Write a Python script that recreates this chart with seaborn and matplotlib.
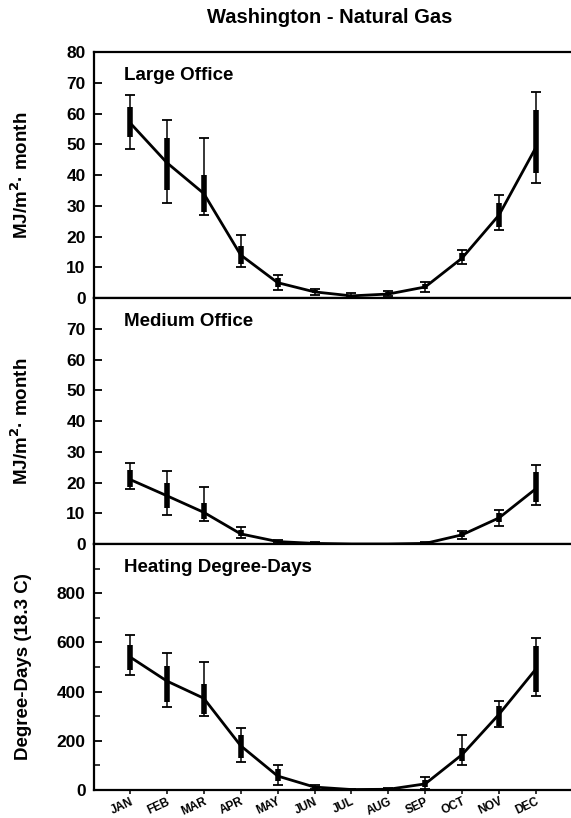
import numpy as np
import pandas as pd
import matplotlib
matplotlib.use('Agg')
import matplotlib.pyplot as plt
from matplotlib.ticker import MultipleLocator
import seaborn as sns

sns.set_style('ticks')
plt.rcParams['font.family'] = ['Liberation Sans', 'DejaVu Sans']
plt.rcParams['font.weight'] = 'bold'
plt.rcParams['text.color'] = 'black'
plt.rcParams['axes.labelcolor'] = 'black'
plt.rcParams['xtick.color'] = 'black'
plt.rcParams['ytick.color'] = 'black'

months = ['JAN', 'FEB', 'MAR', 'APR', 'MAY', 'JUN', 'JUL', 'AUG', 'SEP', 'OCT', 'NOV', 'DEC']

# large office gas use, MJ/m2 per month (mean, full range, inner band)
large_mean = [57, 44, 34, 14, 5, 2, 0.7, 1.3, 3.6, 13, 27, 49]
large_lo = [48.5, 31, 27, 10, 2.5, 1, 0.2, 0.5, 2, 11, 22, 37.5]
large_hi = [66, 58, 52, 20.5, 7.5, 3, 1.5, 2.3, 5.2, 15.5, 33.5, 67]
large_band_lo = [52.5, 35, 28, 11, 3.5, 1.5, 0.4, 0.9, 2.8, 12, 23, 40.5]
large_band_hi = [62, 52, 40, 17, 6.5, 2.5, 1, 1.8, 4.5, 14.5, 31, 61]

# medium office
medium_mean = [21, 15.7, 10.3, 3.3, 0.8, 0.2, 0, 0, 0.2, 3, 8.5, 18]
medium_lo = [18, 9.5, 7.5, 2, 0.3, 0, 0, 0, 0, 1.6, 6, 12.7]
medium_hi = [26.3, 23.8, 18.6, 5.5, 1.3, 0.5, 0.1, 0.1, 0.5, 4.2, 11, 25.7]
medium_band_lo = [18.5, 11.7, 8, 2.5, 0.5, 0.1, 0, 0, 0.1, 2.2, 7, 13.7]
medium_band_hi = [24, 20, 13.5, 4.5, 1.1, 0.3, 0, 0, 0.3, 3.8, 10, 23.4]

# heating degree-days (18.3 C)
hdd_mean = [541, 443, 373, 180, 57, 12, 2, 3, 25, 144, 308, 492]
hdd_lo = [468, 336, 300, 115, 21, 3, 0, 0, 5, 103, 258, 382]
hdd_hi = [632, 558, 521, 254, 103, 22, 5, 8, 54, 222, 361, 619]
hdd_band_lo = [488, 357, 308, 131, 35, 6, 1, 1, 12, 118, 262, 398]
hdd_band_hi = [590, 505, 431, 222, 85, 18, 3, 5, 40, 172, 340, 587]

x = np.arange(1, 13)

fig, axes = plt.subplots(3, 1, figsize=(5.71, 8.18), dpi=100, sharex=True)
fig.subplots_adjust(left=0.1646, right=1.0, top=0.9364, bottom=0.0342, hspace=0)

panels = [
    ('Large Office', large_mean, large_lo, large_hi, large_band_lo, large_band_hi),
    ('Medium Office', medium_mean, medium_lo, medium_hi, medium_band_lo, medium_band_hi),
    ('Heating Degree-Days', hdd_mean, hdd_lo, hdd_hi, hdd_band_lo, hdd_band_hi),
]

for ax, (name, mean, lo, hi, blo, bhi) in zip(axes, panels):
    df = pd.DataFrame({'month': x, 'value': mean})
    sns.lineplot(data=df, x='month', y='value', ax=ax, color='black', linewidth=2.0)
    mean_a = np.array(mean)
    # full range whiskers
    ax.errorbar(x, mean_a, yerr=[mean_a - np.array(lo), np.array(hi) - mean_a],
                fmt='none', ecolor='black', elinewidth=1.1, capsize=3.5, capthick=1.3)
    # inner band, thick bars
    ax.errorbar(x, mean_a, yerr=[np.clip(mean_a - np.array(blo), 0, None),
                                 np.clip(np.array(bhi) - mean_a, 0, None)],
                fmt='none', ecolor='black', elinewidth=4, capsize=0)
    ax.text(0.063, 0.94, name, transform=ax.transAxes, ha='left', va='top',
            fontsize=13.5, fontweight='bold')
    sns.despine(ax=ax, top=False, right=True)
    for s in ['left', 'bottom', 'top']:
        ax.spines[s].set_linewidth(1.6)
        ax.spines[s].set_color('black')
    ax.tick_params(axis='y', direction='in', length=6, width=1.3, labelsize=12.5, pad=6)
    ax.tick_params(axis='x', direction='out', length=3, width=1.1, pad=1)
    ax.set_xlabel('')

axes[0].set_ylim(0, 80)
axes[0].set_yticks(range(0, 81, 10))
axes[1].set_ylim(0, 80)
axes[1].set_yticks(range(0, 71, 10))
axes[2].set_ylim(0, 1000)
axes[2].set_yticks(range(0, 801, 200))
axes[2].yaxis.set_minor_locator(MultipleLocator(100))
axes[2].tick_params(axis='y', which='minor', direction='in', length=4, width=1.1)

for ax in axes:
    for lab in ax.get_yticklabels():
        lab.set_fontweight('bold')

axes[0].set_ylabel('MJ/m$^\\mathbf{2}$· month', fontsize=13.5, fontweight='bold')
axes[1].set_ylabel('MJ/m$^\\mathbf{2}$· month', fontsize=13.5, fontweight='bold')
axes[2].set_ylabel('Degree-Days (18.3 C)', fontsize=13.5, fontweight='bold')
for ax in axes:
    ax.yaxis.set_label_coords(-0.13, 0.5)

axes[2].set_xlim(0.025, 12.95)
axes[2].set_xticks(x)
axes[2].set_xticklabels(months, rotation=25, ha='right', rotation_mode='anchor',
                        fontsize=8.5, fontweight='bold')

fig.suptitle('Washington - Natural Gas', x=0.578, y=0.99, fontsize=14.5, fontweight='bold')

fig.savefig('out.png', dpi=100)
